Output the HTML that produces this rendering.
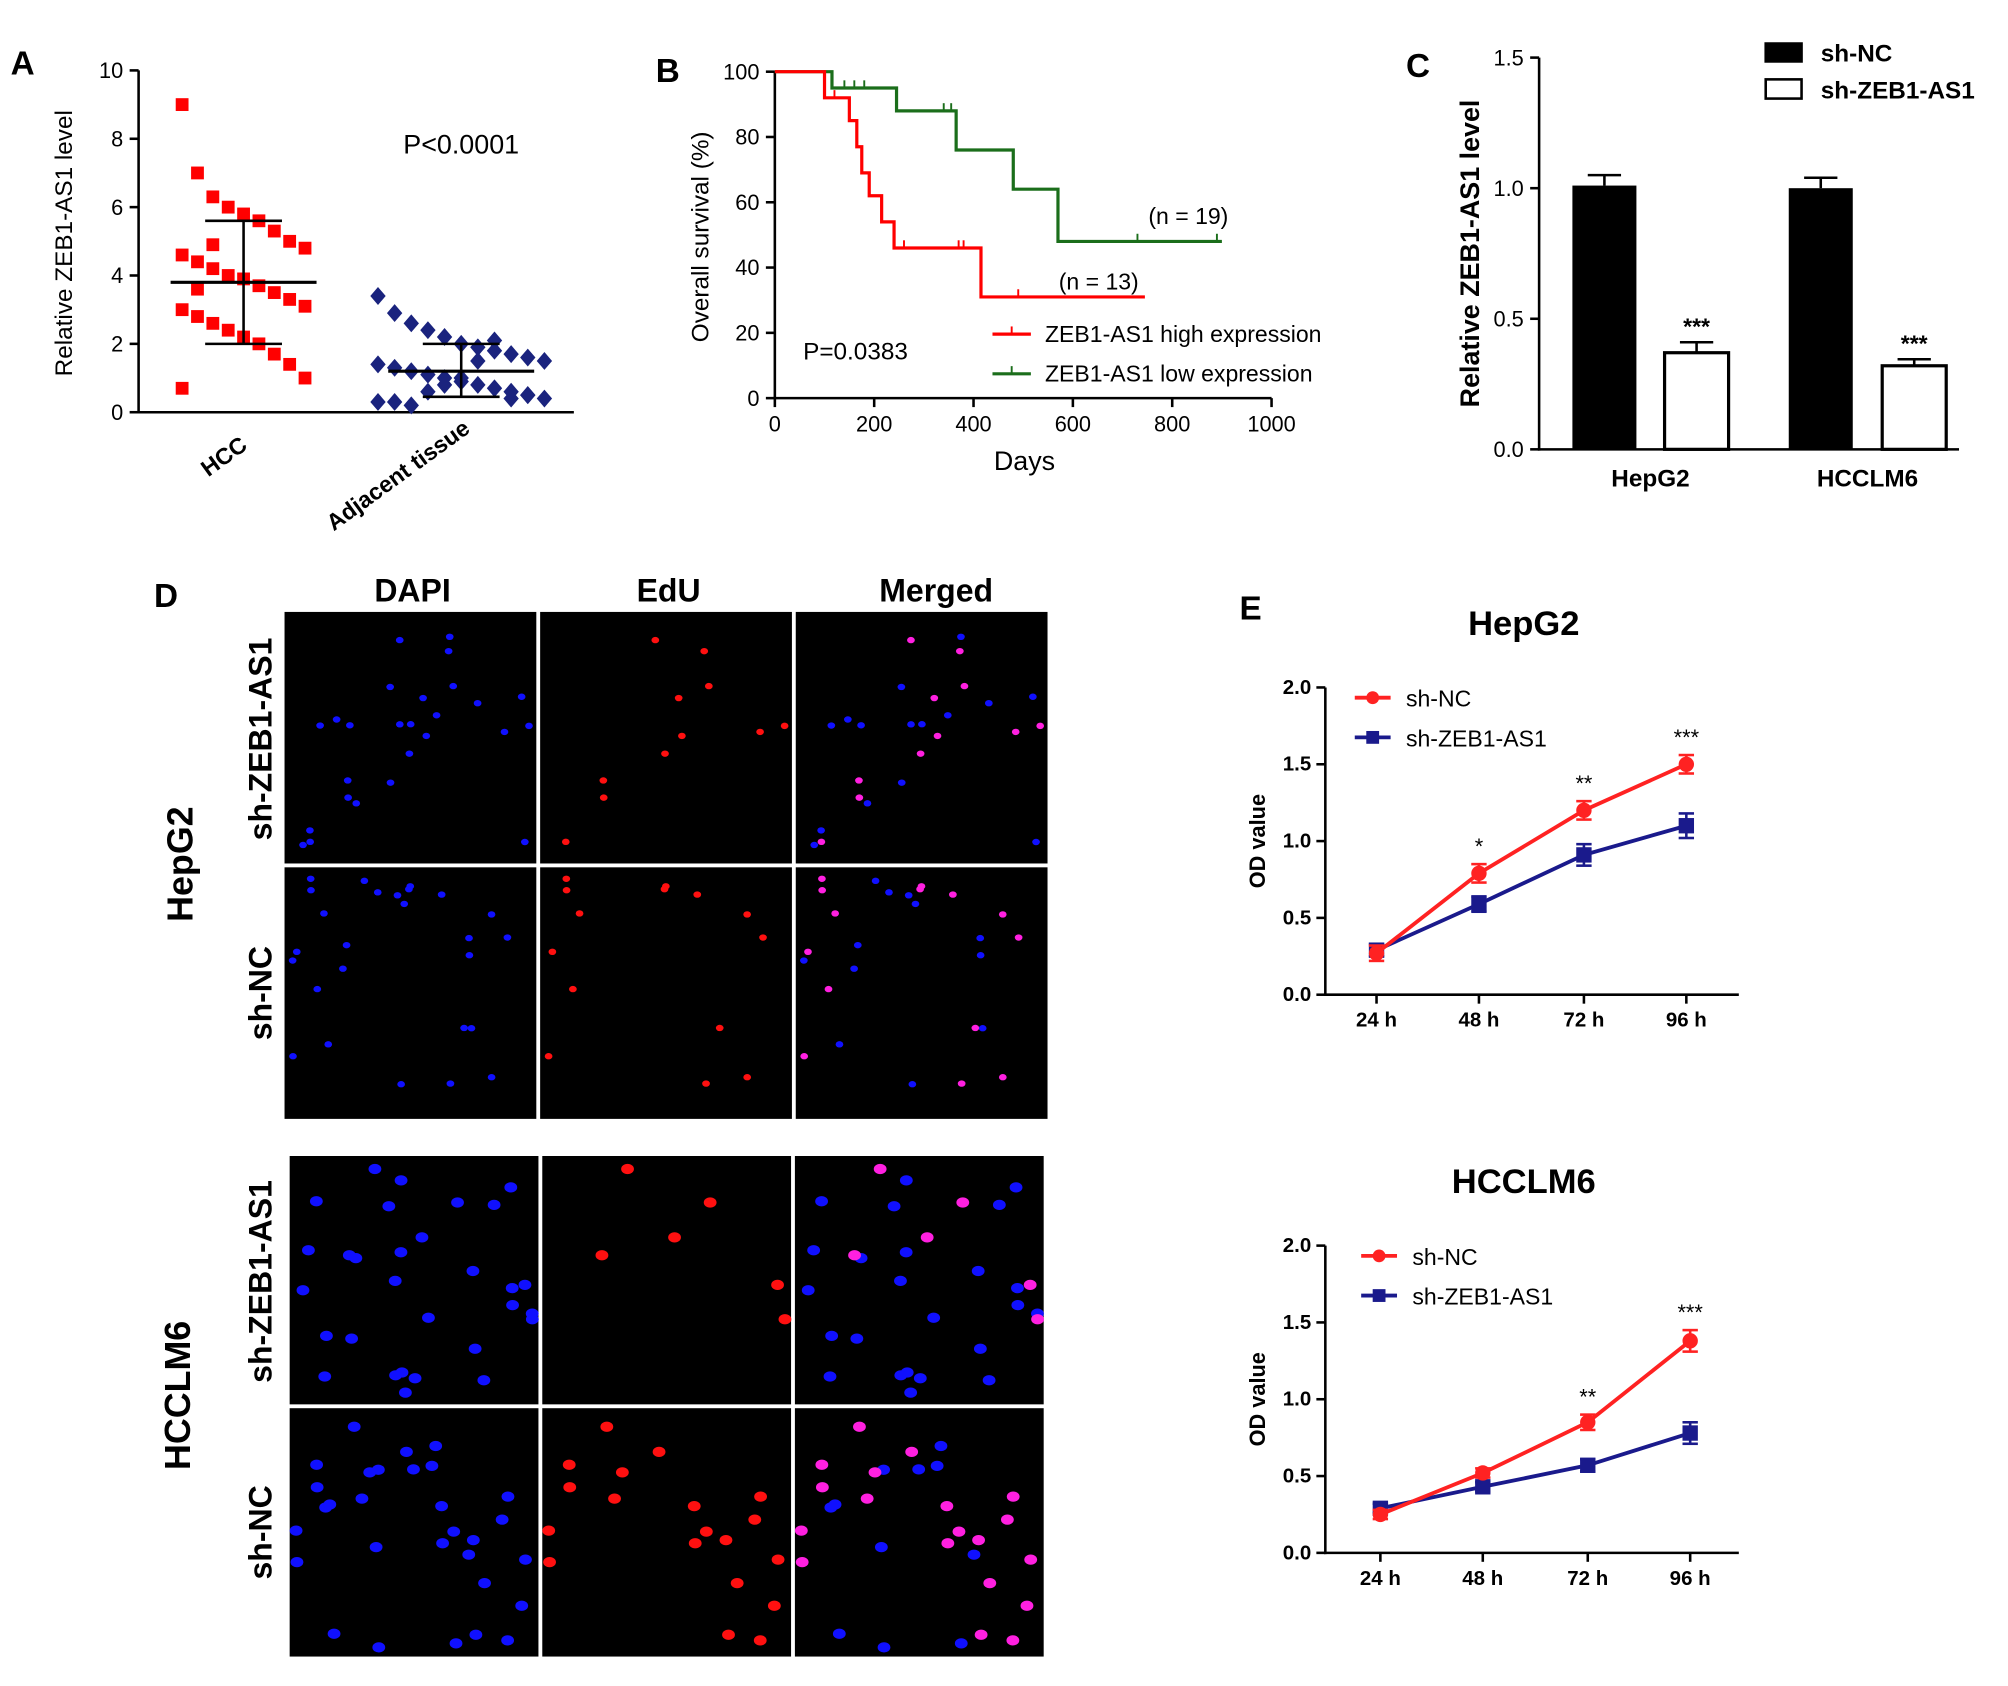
<!DOCTYPE html>
<html><head><meta charset="utf-8">
<style>
html,body{margin:0;padding:0;background:#fff}
svg{display:block}
text{font-family:"Liberation Sans",Arial,sans-serif}
</style></head>
<body>
<svg id="fig" width="2008" height="1686" viewBox="0 0 1568 1317" xmlns="http://www.w3.org/2000/svg"></svg>
<script>
// ---------- DATA ----------
const hccValues=[9.0,7.0,6.3,6.0,5.8,5.6,5.3,5.0,4.8,4.6,4.4,4.2,4.0,3.9,3.7,3.5,3.3,3.1,3.0,2.8,2.6,2.4,2.2,2.0,1.7,1.4,1.0,0.7,3.6,4.9];
const adjValues=[3.4,2.9,2.6,2.4,2.2,2.0,1.9,1.8,1.7,1.6,1.5,1.4,1.3,1.2,1.1,1.0,0.9,0.8,0.7,0.6,0.5,0.4,0.3,0.3,0.2,0.6,0.8,1.0,1.5,2.1,0.4,0.5];
const groupStats=[{mean:3.8,lo:2.0,hi:5.6},{mean:1.2,lo:0.45,hi:2.0}];
const aTicks=[0,2,4,6,8,10];
const kmHighT=[0,100,150,165,175,190,215,240,415,745];
const kmHighS=[100,92,85,77,69,62,54,46,31,31];
const kmHighCens=[[120,92],[260,46],[370,46],[380,46],[490,31]];
const kmLowT=[0,115,245,365,480,570,900];
const kmLowS=[100,95,88,76,64,48,48];
const kmLowCens=[[140,95],[160,95],[180,95],[340,88],[355,88],[730,48],[890,48]];
const bTicksX=[0,200,400,600,800,1000];
const bTicksY=[0,20,40,60,80,100];
const cCells=["HepG2","HCCLM6"];
const cNC=[1.01,1.0];const cNCerr=[0.04,0.04];
const cSh=[0.37,0.32];const cShErr=[0.04,0.025];
const cTicks=[0,0.5,1.0,1.5];
const eTimes=["24 h","48 h","72 h","96 h"];
const eTicks=[0,0.5,1.0,1.5,2.0];
const hepNC=[0.27,0.79,1.2,1.5];const hepNCerr=[0.05,0.06,0.06,0.06];
const hepSh=[0.29,0.59,0.91,1.1];const hepShErr=[0.04,0.05,0.07,0.08];
const hepStars=["","*","**","***"];
const lmNC=[0.25,0.52,0.85,1.38];const lmNCerr=[0.03,0.03,0.05,0.07];
const lmSh=[0.29,0.43,0.57,0.78];const lmShErr=[0.03,0.03,0.04,0.07];
const lmStars=["","","**","***"];

const svg=document.getElementById('fig');
const NS='http://www.w3.org/2000/svg';
function el(tag,attrs,parent,txt){const e=document.createElementNS(NS,tag);for(const k in attrs)e.setAttribute(k,attrs[k]);if(txt!==undefined)e.textContent=txt;(parent||svg).appendChild(e);return e;}
function g(name,parent){const e=el('g',{},parent);


return e;}
function label(txt,x,y,size,parent,opts){opts=opts||{};const t=el('text',{x:x,y:y,'font-size':size,'text-anchor':opts.anchor||'start','font-weight':opts.bold?'bold':'normal',fill:opts.fill||'#000'},parent,txt);if(opts.rot)t.setAttribute('transform',`rotate(${opts.rot} ${x} ${y})`);


return t;}
function line(x1,y1,x2,y2,parent,stroke,w){return el('line',{x1,y1,x2,y2,stroke:stroke||'#000','stroke-width':w||2},parent);}

// ---------- PANEL A ----------
(function(){
const p=g('panel-a');
label('A',8,58,26,p,{bold:true,name:'panel-label-a'});
const x0=108,x1=448,yA=v=>322-v*26.7;
line(x0,55,x0,323,p);line(x0-1,322,x1,322,p);
aTicks.forEach(t=>{line(x0-7,yA(t),x0,yA(t),p);label(String(t),x0-12,yA(t)+6,17,p,{anchor:'end',name:'y-tick-label'});});
label('Relative  ZEB1-AS1 level',56,190,19,p,{rot:-90,anchor:'middle',name:'y-axis-title'});
label('P<0.0001',360,120,21,p,{anchor:'middle',name:'p-value'});
const cx=[190,360];
hccValues.forEach((v,i)=>{const off=((i*37)%9-4)*12;const r=el('rect',{x:cx[0]+off-5,y:yA(v)-5,width:10,height:10,fill:'#f00'},p);

});
adjValues.forEach((v,i)=>{const off=((i*23)%11-5)*13;const d=el('path',{d:`M${cx[1]+off},${yA(v)-7}l6,7l-6,7l-6,-7z`,fill:'#1a237e'},p);

});
groupStats.forEach((s,i)=>{const c=cx[i];line(c-57,yA(s.mean),c+57,yA(s.mean),p,'#000',2.5);line(c,yA(s.lo),c,yA(s.hi),p);line(c-30,yA(s.lo),c+30,yA(s.lo),p);line(c-30,yA(s.hi),c+30,yA(s.hi),p);});
label('HCC',194,350,18,p,{rot:-36,anchor:'end',name:'x-label-hcc',bold:true});
label('Adjacent tissue',368,337,18,p,{rot:-36,anchor:'end',name:'x-label-adjacent',bold:true});
})();

// ---------- PANEL B ----------
(function(){
const p=g('panel-b');
label('B',512,64,26,p,{bold:true,name:'panel-label-b'});
const xB=v=>605+v*0.388,yB=v=>311-v*2.55;
line(605,56,605,312,p);line(604,311,993,311,p);
bTicksX.forEach(t=>{line(xB(t),311,xB(t),318,p);label(String(t),xB(t),337,17,p,{anchor:'middle',name:'x-tick-label'});});
bTicksY.forEach(t=>{line(598,yB(t),605,yB(t),p);label(String(t),593,yB(t)+6,17,p,{anchor:'end',name:'y-tick-label'});});
label('Overall survival  (%)',553,185,19,p,{rot:-90,anchor:'middle',name:'y-axis-title'});
label('Days',800,367,21,p,{anchor:'middle',name:'x-axis-title'});
function km(T,S,cens,col,name){let d=`M${xB(T[0])},${yB(S[0])}`;for(let i=1;i<T.length;i++){d+=`H${xB(T[i])}V${yB(S[i])}`;}
const path=el('path',{d,fill:'none',stroke:col,'stroke-width':2.5},p);


cens.forEach(c=>line(xB(c[0]),yB(c[1])-6,xB(c[0]),yB(c[1]),p,col,1.5));}
km(kmLowT,kmLowS,kmLowCens,'#1b6e1b','km-low-expression');
km(kmHighT,kmHighS,kmHighCens,'#f00','km-high-expression');
label('(n = 19)',928,175,18,p,{anchor:'middle',name:'n-low'});
label('(n = 13)',858,226,18,p,{anchor:'middle',name:'n-high'});
label('P=0.0383',668,281,19,p,{anchor:'middle',name:'p-value'});
line(775,261,805,261,p,'#f00',2.5);line(790,255,790,261,p,'#f00',1.5);
label('ZEB1-AS1 high expression',816,267,18,p,{name:'legend-high'});
line(775,292,805,292,p,'#1b6e1b',2.5);line(790,286,790,292,p,'#1b6e1b',1.5);
label('ZEB1-AS1 low expression',816,298,18,p,{name:'legend-low'});
})();

// ---------- PANEL C ----------
(function(){
const p=g('panel-c');
label('C',1098,60,26,p,{bold:true,name:'panel-label-c'});
const yC=v=>351-v*204;
line(1202,45,1202,352,p);line(1201,351,1530,351,p);
cTicks.forEach(t=>{line(1195,yC(t),1202,yC(t),p);label(t.toFixed(1),1190,yC(t)+6,17,p,{anchor:'end',name:'y-tick-label'});});
label('Relative  ZEB1-AS1 level',1155,198,21,p,{rot:-90,anchor:'middle',bold:true,name:'y-axis-title'});
const ncX=[1228,1397],shX=[1300,1470],w=50;
cCells.forEach((c,i)=>{
 const b=el('rect',{x:ncX[i],y:yC(cNC[i]),width:w,height:yC(0)-yC(cNC[i]),fill:'#000'},p);
 
 
 line(ncX[i]+w/2,yC(cNC[i]),ncX[i]+w/2,yC(cNC[i]+cNCerr[i]),p);line(ncX[i]+12,yC(cNC[i]+cNCerr[i]),ncX[i]+38,yC(cNC[i]+cNCerr[i]),p);
 const s=el('rect',{x:shX[i],y:yC(cSh[i]),width:w,height:yC(0)-yC(cSh[i]),fill:'#fff',stroke:'#000','stroke-width':2.5},p);
 
 
 line(shX[i]+w/2,yC(cSh[i]),shX[i]+w/2,yC(cSh[i]+cShErr[i]),p);line(shX[i]+12,yC(cSh[i]+cShErr[i]),shX[i]+38,yC(cSh[i]+cShErr[i]),p);
 label('***',shX[i]+w/2,yC(cSh[i]+cShErr[i])-6,18,p,{anchor:'middle',bold:true,name:'significance'});
 label(c,(ncX[i]+shX[i]+w)/2,380,19,p,{anchor:'middle',bold:true,name:'x-label'});
});
el('rect',{x:1378,y:33,width:30,height:16,fill:'#000'},p);
label('sh-NC',1422,48,19,p,{bold:true,name:'legend-sh-nc'});
el('rect',{x:1379,y:62,width:28,height:15,fill:'#fff',stroke:'#000','stroke-width':2},p);
label('sh-ZEB1-AS1',1422,77,19,p,{bold:true,name:'legend-sh-zeb1'});
})();

// ---------- PANEL D ----------
(function(){
const p=g('panel-d');
label('D',120,474,26,p,{bold:true,name:'panel-label-d'});
label('DAPI',322,470,25,p,{anchor:'middle',bold:true,name:'col-header-dapi'});
label('EdU',522,470,25,p,{anchor:'middle',bold:true,name:'col-header-edu'});
label('Merged',731,470,25,p,{anchor:'middle',bold:true,name:'col-header-merged'});
let seed=7;const rnd=()=>{seed=(seed*9301+49297)%233280;return seed/233280;};
const blocks=[{y:478,x:222,w:596,h:397,big:false,name:'HepG2',cy:675,lx:150},{y:903,x:226,w:589,h:392,big:true,name:'HCCLM6',cy:1090,lx:148}];
blocks.forEach(B=>{
 label(B.name,B.lx,B.cy,28,p,{rot:-90,anchor:'middle',bold:true,name:'row-group-'+B.name.toLowerCase()});
 const rh=B.h/2,cw=B.w/3;
 ['sh-ZEB1-AS1','sh-NC'].forEach((rl,r)=>{
  label(rl,212,B.y+rh*r+rh/2,25,p,{rot:-90,anchor:'middle',bold:true,name:'row-label'});
  const nb=B.big?30:26;const pts=[];for(let k=0;k<nb;k++)pts.push([rnd()*(cw-10)+5,rnd()*(rh-10)+5,rnd()<(r==0?0.25:0.55)]);
  for(let c=0;c<3;c++){
   const x=B.x+c*(cw+1),y=B.y+r*(rh+1);
   const im=el('rect',{x,y,width:cw-2,height:rh-2,fill:'#000'},p);
   
   
   pts.forEach(q=>{
    const col=c==0?'#1010ff':c==1?'#ff1010':'#ff20e0';
    if(c==1&&!q[2])return;
    const fill=(c==2&&!q[2])?'#1010ff':col;
    el('ellipse',{cx:x+q[0],cy:y+q[1],rx:B.big?5:3,ry:B.big?4:2.5,fill},p);
   });
  }
 });
});
})();

// ---------- PANEL E ----------
label('E',968,484,26,svg,{bold:true,name:'panel-label-e'});
function lineChart(name,title,titleY,yTop,xs,nc,ncE,sh,shE,stars,legY){
 const p=g('panel-e-'+name);
 const yE=v=>yTop+240-v*120;
 label(title,1190,titleY,27,p,{anchor:'middle',bold:true,name:'chart-title'});
 line(1035,yTop,1035,yTop+241,p);line(1034,yTop+240,1358,yTop+240,p);
 eTicks.forEach(t=>{line(1028,yE(t),1035,yE(t),p);label(t.toFixed(1),1024,yE(t)+5,16,p,{anchor:'end',bold:true,name:'y-tick-label'});});
 eTimes.forEach((t,i)=>{line(xs[i],yTop+240,xs[i],yTop+247,p);label(t,xs[i],yTop+265,16,p,{anchor:'middle',bold:true,name:'x-tick-label'});});
 label('OD value',988,yTop+120,17,p,{rot:-90,anchor:'middle',bold:true,name:'y-axis-title'});
 function series(vals,err,col,sq,sname){
  const pl=el('polyline',{points:vals.map((v,i)=>xs[i]+','+yE(v)).join(' '),fill:'none',stroke:col,'stroke-width':3},p);
  
  
  vals.forEach((v,i)=>{line(xs[i],yE(v-err[i]),xs[i],yE(v+err[i]),p,col,2);line(xs[i]-6,yE(v-err[i]),xs[i]+6,yE(v-err[i]),p,col,2);line(xs[i]-6,yE(v+err[i]),xs[i]+6,yE(v+err[i]),p,col,2);
   if(sq)el('rect',{x:xs[i]-6,y:yE(v)-6,width:12,height:12,fill:col},p);else el('circle',{cx:xs[i],cy:yE(v),r:6,fill:col},p);});
 }
 series(sh,shE,'#1a1a8c',true,'series-sh-zeb1');
 series(nc,ncE,'#f22',false,'series-sh-nc');
 stars.forEach((s,i)=>{if(s)label(s,xs[i],yE(nc[i]+ncE[i])-8,17,p,{anchor:'middle',name:'significance'});});
 line(legY[0],legY[1],legY[0]+28,legY[1],p,'#f22',3);el('circle',{cx:legY[0]+14,cy:legY[1],r:5,fill:'#f22'},p);
 label('sh-NC',legY[0]+40,legY[1]+7,18,p,{name:'legend-sh-nc'});
 line(legY[0],legY[1]+31,legY[0]+28,legY[1]+31,p,'#1a1a8c',3);el('rect',{x:legY[0]+9,y:legY[1]+26,width:10,height:10,fill:'#1a1a8c'},p);
 label('sh-ZEB1-AS1',legY[0]+40,legY[1]+38,18,p,{name:'legend-sh-zeb1'});
}
lineChart('hepg2','HepG2',496,537,[1075,1155,1237,1317],hepNC,hepNCerr,hepSh,hepShErr,hepStars,[1058,545]);
lineChart('hcclm6','HCCLM6',932,973,[1078,1158,1240,1320],lmNC,lmNCerr,lmSh,lmShErr,lmStars,[1063,981]);
</script>
</body></html>
